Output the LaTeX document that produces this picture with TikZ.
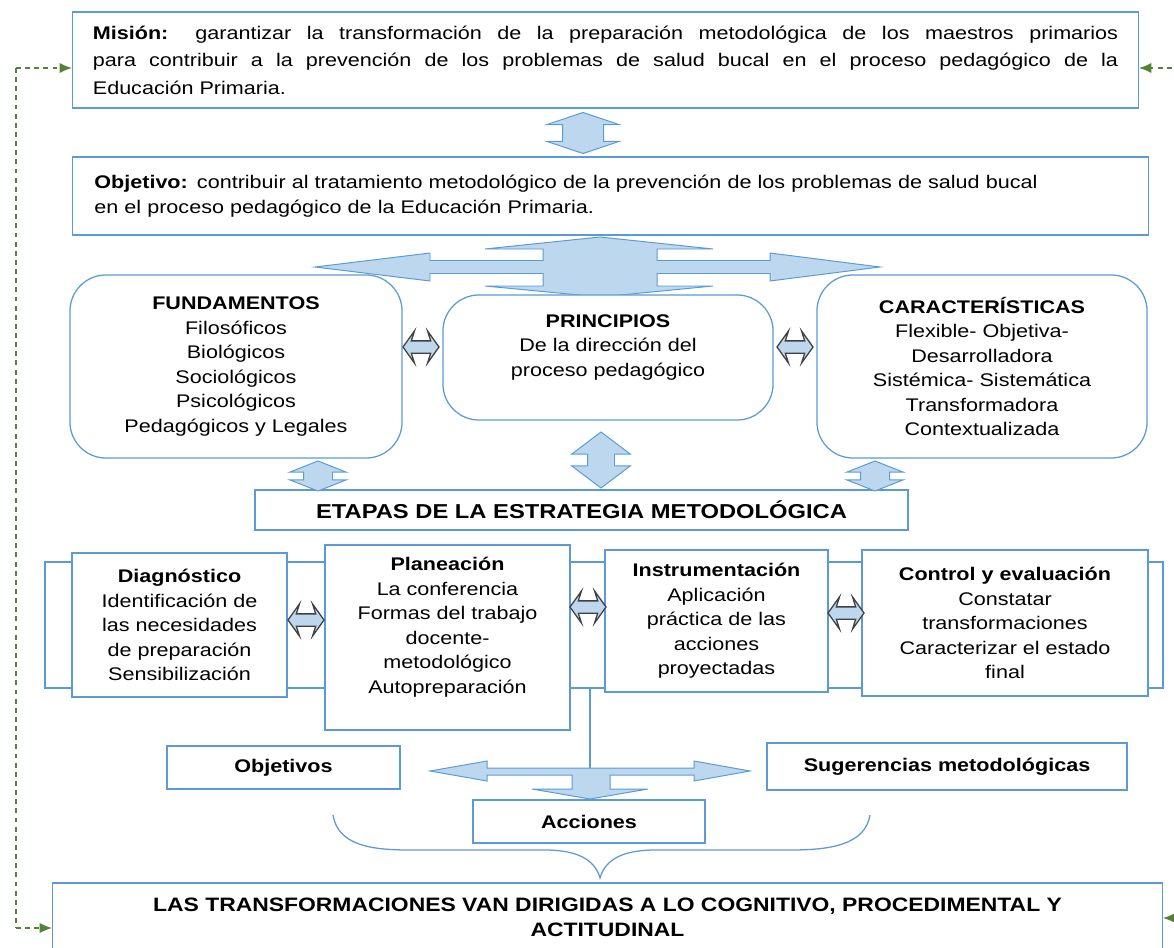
\documentclass[tikz,border=0pt]{standalone}
\usepackage{fontspec}
\setmainfont{Liberation Sans}[FakeStretch=1.18]
\usetikzlibrary{shapes.arrows}
\usetikzlibrary{arrows.meta}
\usetikzlibrary{positioning}
\definecolor{BOX-BLUE}{RGB}{91,155,213}
\definecolor{ARROW-FILL}{RGB}{189,215,238}
\definecolor{LOOP-GREEN}{RGB}{84,130,53}
\definecolor{EDGE-GREY}{RGB}{64,64,64}

\tikzset{
	plainbox/.style={draw=BOX-BLUE,line width=0.9pt,fill=white,inner sep=0pt,align=center},
	softbox/.style={plainbox,rounded corners=0.9cm},
	updown/.style={double arrow,rotate=90,draw=BOX-BLUE,fill=ARROW-FILL,line width=0.7pt,inner xsep=0pt},
	sideways/.style={double arrow,draw=EDGE-GREY,fill=ARROW-FILL,line width=0.9pt,inner xsep=0pt,inner ysep=0.1375cm,
		minimum height=0.9cm,minimum width=0.775cm,double arrow head extend=0.25cm,
		double arrow tip angle=109,double arrow head indent=0.08cm},
	blockarrow/.style={draw=BOX-BLUE,fill=ARROW-FILL,line width=0.7pt,line join=miter},
	feedback/.style={draw=LOOP-GREEN,line width=1.5pt,dash pattern=on 3.5pt off 3pt,
		-{Latex[length=9pt,width=7.5pt]}}
}

\begin{document}
\begin{tikzpicture}[x=0.025cm,y=-0.025cm,font=\fontsize{13}{17.4}\selectfont]
	\useasboundingbox (0,0) rectangle (1174,947);

	% mission and objective
	\node (mision) at (605.5,60) [plainbox,minimum width=26.625cm,minimum height=2.4cm,
		text width=25.625cm,align=justify,font=\fontsize{13}{19.5}\selectfont]
		{\textbf{Misión:} garantizar la transformación de la preparación metodológica de los maestros primarios\linebreak
		para contribuir a la prevención de los problemas de salud bucal en el proceso pedagógico de la\linebreak
		Educación Primaria.};
	\node (objetivo) at (610.5,196) [plainbox,minimum width=26.875cm,minimum height=1.95cm,
		text width=25.8cm,align=left]
		{\textbf{Objetivo:} contribuir al tratamiento metodológico de la prevención de los problemas de salud bucal\\
		en el proceso pedagógico de la Educación Primaria.};
	\node (misobj) at (583,133) [updown,minimum height=1.025cm,minimum width=1.8cm,inner ysep=0.5cm,
		double arrow head extend=0.4cm,double arrow tip angle=143] {};

	% four way arrow
	\draw[blockarrow] (600,237) -- (713,249) -- (657,249) -- (657,260.5) -- (770,260.5) -- (770,253)
		-- (880,267) -- (770,281) -- (770,273.5) -- (657,273.5) -- (657,286) -- (713,286) -- (600,297)
		-- (485,286) -- (543,286) -- (543,273.5) -- (430,273.5) -- (430,281) -- (315,267) -- (430,253)
		-- (430,260.5) -- (543,260.5) -- (543,249) -- (485,249) -- cycle;

	% foundations, principles, features
	\node (fund) at (236,366.5) [softbox,minimum width=8.3cm,minimum height=4.575cm]
		{\textbf{FUNDAMENTOS}\\Filosóficos\\Biológicos\\Sociológicos\\Psicológicos\\Pedagógicos y Legales};
	\node (princ) at (608,357.5) [softbox,minimum width=8.25cm,minimum height=3.125cm]
		{\textbf{PRINCIPIOS}\\De la dirección del\\proceso pedagógico\\[0pt]};
	\node (caract) at (982,366.5) [softbox,minimum width=8.25cm,minimum height=4.575cm]
		{\textbf{CARACTERÍSTICAS}\\Flexible- Objetiva-\\Desarrolladora\\Sistémica- Sistemática\\Transformadora\\Contextualizada};
	\node (fundprinc) at (421,347) [sideways] {};
	\node (princcar) at (795,347) [sideways] {};

	% stages title
	\node (etapas) at (581.5,510) [plainbox,minimum width=16.325cm,minimum height=1cm,
		font=\fontsize{14.3}{17.4}\selectfont\bfseries] {ETAPAS DE LA ESTRATEGIA METODOLÓGICA};
	\node (fundetapas) at (318,476) [updown,minimum height=0.75cm,minimum width=1.4cm,inner ysep=0.35cm,
		double arrow head extend=0.35cm,double arrow tip angle=137] {};
	\node (princetapas) at (601,460) [updown,minimum height=1.4cm,minimum width=1.45cm,inner ysep=0.325cm,
		double arrow head extend=0.4cm,double arrow tip angle=106] {};
	\node (caretapas) at (875,476) [updown,minimum height=0.75cm,minimum width=1.4cm,inner ysep=0.35cm,
		double arrow head extend=0.35cm,double arrow tip angle=137] {};

	% stages
	\draw[draw=BOX-BLUE,line width=0.9pt] (45,562) rectangle (1163,688);
	\node (diag) at (179.5,625) [plainbox,minimum width=5.375cm,minimum height=3.6cm]
		{\textbf{Diagnóstico}\\Identificación de\\las necesidades\\de preparación\\Sensibilización};
	\node (plan) at (447.5,637.5) [plainbox,minimum width=6.125cm,minimum height=4.625cm]
		{\textbf{Planeación}\\La conferencia\\Formas del trabajo\\docente-\\metodológico\\Autopreparación\\[0pt]};
	\node (instr) at (716.5,621) [plainbox,minimum width=5.575cm,minimum height=3.55cm]
		{\textbf{Instrumentación}\\Aplicación\\práctica de las\\acciones\\proyectadas};
	\node (ctrl) at (1005,623) [plainbox,minimum width=7.15cm,minimum height=3.65cm]
		{\textbf{Control y evaluación}\\Constatar\\transformaciones\\Caracterizar el estado\\final};
	\node (diagplan) at (306,620) [sideways] {};
	\node (planinstr) at (588,607) [sideways] {};
	\node (instrctrl) at (846,613) [sideways] {};

	% products of the strategy
	\coordinate (bandfoot) at (590,688);
	\coordinate (split) at (590,768);
	\draw[draw=BOX-BLUE,line width=0.9pt] (bandfoot) -- (split);
	\draw[blockarrow] (487,768) -- (694,768) -- (694,761) -- (750,771) -- (694,781) -- (694,775)
		-- (610,775) -- (610,789) -- (648,789) -- (590,799) -- (532,789) -- (572,789) -- (572,775)
		-- (487,775) -- (487,781) -- (430,771) -- (487,761) -- cycle;
	\node (objetivos) at (283.5,767.5) [plainbox,minimum width=5.825cm,minimum height=1.075cm] {\textbf{Objetivos}};
	\node (sugerencias) at (947,766.5) [plainbox,minimum width=9cm,minimum height=1.175cm] {\textbf{Sugerencias metodológicas}};
	\node (acciones) at (589,821.5) [plainbox,minimum width=5.8cm,minimum height=1.075cm] {\textbf{Acciones}};

	% brace
	\draw[draw=BOX-BLUE,line width=0.9pt] (333,815) .. controls (338,845) and (370,850) .. (410,850) -- (545,850)
		.. controls (578,850) and (595,860) .. (600,878) .. controls (605,860) and (622,850) .. (655,850)
		-- (790,850) .. controls (830,850) and (865,845) .. (870,815);

	% final box
	\node (final) at (607.5,917.5) [plainbox,minimum width=27.725cm,minimum height=1.725cm,font=\fontsize{13.8}{17.4}\selectfont\bfseries]
		{LAS TRANSFORMACIONES VAN DIRIGIDAS A LO COGNITIVO, PROCEDIMENTAL Y\\ACTITUDINAL};

	% feedback loops
	\coordinate (looptop) at (16,68);
	\coordinate (loopbot) at (16,928);
	\coordinate (rlooptop) at (1190,68);
	\coordinate (rloopbot) at (1190,918);
	\draw[feedback,-] (looptop) -- (loopbot);
	\draw[feedback] (looptop) -- (mision.west |- looptop);
	\draw[feedback] (loopbot) -- (final.west |- loopbot);
	\draw[feedback,-] (rlooptop) -- (rloopbot);
	\draw[feedback] (rlooptop) -- (mision.east |- rlooptop);
	\draw[feedback] (rloopbot) -- (final.east |- rloopbot);
\end{tikzpicture}
\end{document}
